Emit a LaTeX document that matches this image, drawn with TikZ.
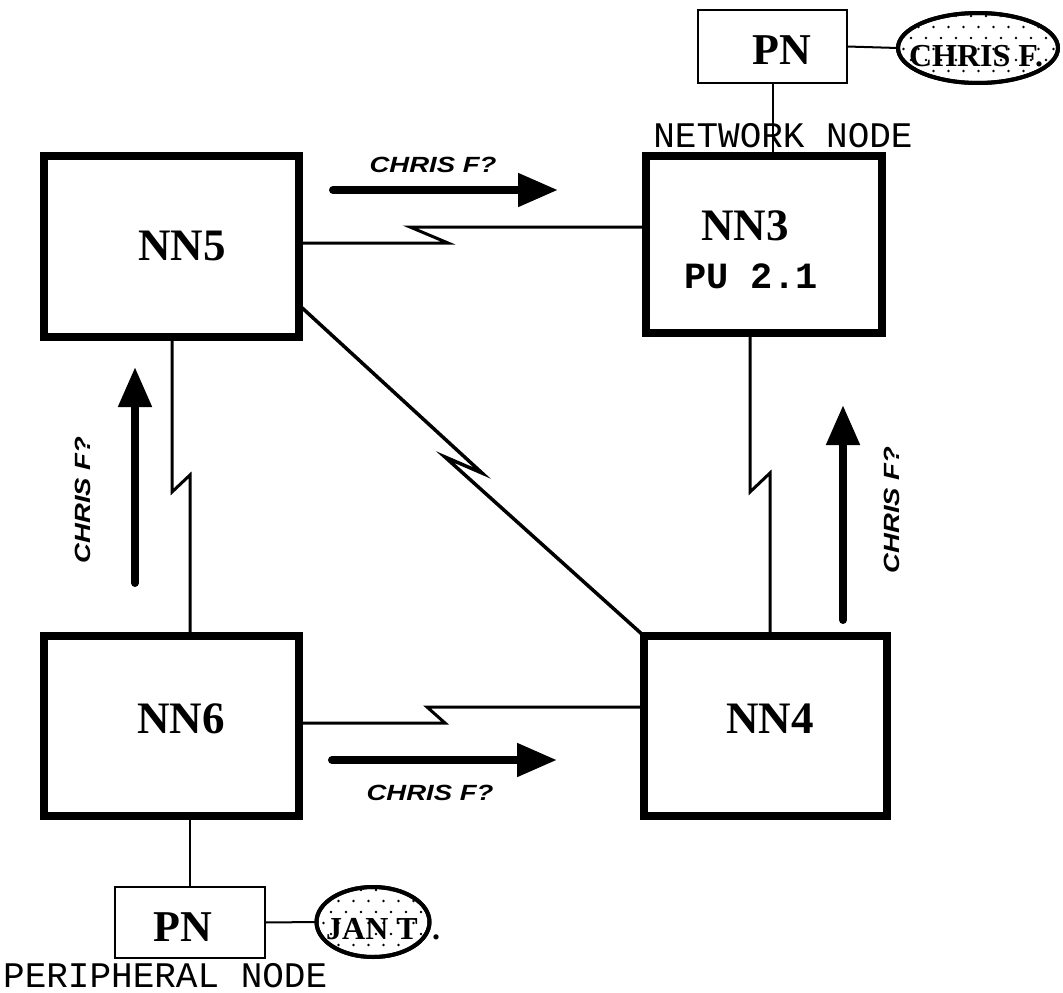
\documentclass[tikz,border=0pt]{standalone}
\usepackage{fontspec}
\usetikzlibrary{arrows.meta,shapes.geometric}
\newfontfamily\monof{Liberation Mono}
\newfontfamily\arrf[FakeStretch=1.25]{Liberation Sans}
\newfontfamily\serf{Liberation Serif}
\begin{document}
\begin{tikzpicture}[x=1pt,y=-1pt,
  nnbox/.style={draw,line width=8pt,outer sep=0pt,inner sep=0pt},
  pnbox/.style={draw,line width=2pt,outer sep=0pt,inner sep=0pt},
  link/.style={line width=3pt,line join=miter},
  bigarrow/.style={line width=8pt,line cap=round,-{Triangle[length=40pt,width=32pt]}},
  arrlabel/.style={font=\arrf\bfseries\itshape\fontsize{22}{22}\selectfont,inner sep=0pt},
  nntext/.style={font=\serf\bfseries\fontsize{45}{45}\selectfont,inner sep=0pt,anchor=base},
  putext/.style={font=\monof\bfseries\fontsize{37}{37}\selectfont,inner sep=0pt,anchor=base},
  pntext/.style={font=\serf\bfseries\fontsize{44}{44}\selectfont,inner sep=0pt,anchor=base},
  captext/.style={font=\monof\fontsize{36}{36}\selectfont,inner sep=0pt,anchor=base},
  bubtext/.style={font=\serf\bfseries\fontsize{32}{32}\selectfont,inner sep=0pt,anchor=base},
  bubble/.style={ellipse,draw,line width=4pt,inner sep=0pt,outer sep=0pt}]
\useasboundingbox (0,0) rectangle (1063,993);

% main boxes
\node[nnbox,minimum width=255pt,minimum height=181pt] (nn5) at (171.5,246.5) {};
\node[nnbox,minimum width=236pt,minimum height=177pt] (nn3) at (764,244.5) {};
\node[nnbox,minimum width=255pt,minimum height=180pt] (nn6) at (171.5,726) {};
\node[nnbox,minimum width=243pt,minimum height=180pt] (nn4) at (765.5,726) {};

\node[nntext] (t5) at (182,260) {NN5};
\node[nntext] (t3) at (745,240) {NN3};
\node[putext] (tpu) at (751,288) {PU 2.1};
\node[nntext] (t6) at (181,733) {NN6};
\node[nntext] (t4) at (770,733) {NN4};

% peripheral nodes
\node[pnbox,minimum width=149pt,minimum height=73pt] (pn1) at (772.5,46.5) {};
\node[pnbox,minimum width=150pt,minimum height=71pt] (pn2) at (190,922.5) {};
\node[pntext] (tpn1) at (782,64) {PN};
\node[pntext] (tpn2) at (183,941) {PN};

% bubbles with dots
\node[bubble,fill=white,minimum width=160pt,minimum height=70pt] (b1) at (978,48) {};
\node[bubble,fill=white,minimum width=113pt,minimum height=70pt] (b2) at (373,922) {};
\begin{scope}
  \clip (978,48) ellipse [x radius=78, y radius=33];
  \foreach \j in {0,...,6}{\foreach \i in {0,...,11}{
    \fill ({896+\i*15+mod(\j,2)*7.5},{16+\j*11}) circle (1.4pt);}}
\end{scope}
\begin{scope}
  \clip (373,922) ellipse [x radius=54, y radius=33];
  \foreach \j in {0,...,6}{\foreach \i in {0,...,8}{
    \fill ({316+\i*15+mod(\j,2)*7.5},{890+\j*11}) circle (1.4pt);}}
\end{scope}
\node[bubble,minimum width=160pt,minimum height=70pt] at (b1) {};
\node[bubble,minimum width=113pt,minimum height=70pt] at (b2) {};
\node[bubtext] (tb1) at (976,66) {CHRIS F.};
\node[bubtext] (tb2) at (372,939) {JAN T};
\node[bubtext,anchor=base west] (tdot) at (432,939) {.};

\draw[line width=2pt] (pn1.east) -- (b1.west);
\draw[line width=2pt] (pn2.east) -- (b2.west);
\draw[line width=2pt] (pn1.south) -- (pn1.south |- nn3.north);
\draw[line width=2pt] (pn2.north) -- (pn2.north |- nn6.south);

\node[captext] (tnet) at (783,147) {NETWORK NODE};
\node[captext,anchor=base west] (tper) at (3,987) {PERIPHERAL NODE};

% lightning links
\coordinate (z1a) at (448,243); \coordinate (z1b) at (410,227);
\draw[link] (nn5.east |- z1a) -- (z1a) -- (z1b) -- (nn3.west |- z1b);
\coordinate (z2a) at (445,723); \coordinate (z2b) at (427,707);
\draw[link] (nn6.east |- z2a) -- (z2a) -- (z2b) -- (nn4.west |- z2b);
\coordinate (z3a) at (172,492); \coordinate (z3b) at (190,475);
\draw[link] (nn5.south -| z3a) -- (z3a) -- (z3b) -- (nn6.north -| z3b);
\coordinate (z4a) at (750,492); \coordinate (z4b) at (770,473);
\draw[link] (nn3.south -| z4a) -- (z4a) -- (z4b) -- (nn4.north -| z4b);
\coordinate (z5s) at (299,305);
\coordinate (z5a) at (482,473); \coordinate (z5b) at (445,457);
\draw[link,line width=3.5pt] (z5s) -- (z5a) -- (z5b) -- (nn4.north west);

% message arrows
\coordinate (a1s) at (333,190); \coordinate (a1e) at (558,190);
\draw[bigarrow] (a1s) -- (a1e);
\coordinate (a2s) at (332,760); \coordinate (a2e) at (557,760);
\draw[bigarrow] (a2s) -- (a2e);
\coordinate (a3s) at (135,583); \coordinate (a3e) at (135,367);
\draw[bigarrow] (a3s) -- (a3e);
\coordinate (a4s) at (843,620); \coordinate (a4e) at (843,405);
\draw[bigarrow] (a4s) -- (a4e);

\node[arrlabel,anchor=base] (l1) at (433,172) {CHRIS F?};
\node[arrlabel,anchor=base] (l2) at (430,800) {CHRIS F?};
\node[arrlabel,rotate=90] (l3) at (83,500) {CHRIS F?};
\node[arrlabel,rotate=90] (l4) at (892,510) {CHRIS F?};
\end{tikzpicture}
\end{document}
